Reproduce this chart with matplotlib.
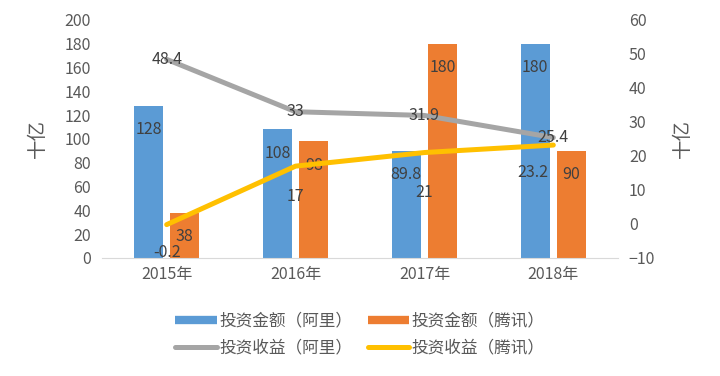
import matplotlib.pyplot as plt
from matplotlib.lines import Line2D
import numpy as np

plt.rcParams['font.family'] = ['Noto Sans CJK SC', 'DejaVu Sans']

years = ['2015年', '2016年', '2017年', '2018年']
invest_ali = [128, 108, 89.8, 180]
invest_tx = [38, 98, 180, 90]
gain_ali = [48.4, 33, 31.9, 25.4]
gain_tx = [-0.2, 17, 21, 23.2]

blue = '#5B9BD5'
orange = '#ED7D31'
grey = '#A5A5A5'
yellow = '#FFC000'
txt = '#404040'
tick_c = '#595959'

fig = plt.figure(figsize=(7.2, 3.76), dpi=100)
ax = fig.add_axes([0.142, 0.314, 0.716, 0.633])
ax2 = ax.twinx()

x = np.arange(len(years))
w = 0.224
off = 0.141
ax.bar(x - off, invest_ali, w, color=blue, zorder=2)
ax.bar(x + off, invest_tx, w, color=orange, zorder=2)

for xi, v in zip(x - off, invest_ali):
    ax.annotate(f'{v:g}', (xi, v), xytext=(0, -11), textcoords='offset points',
                ha='center', va='top', fontsize=11.5, color=txt)
for xi, v in zip(x + off, invest_tx):
    ax.annotate(f'{v:g}', (xi, v), xytext=(0, -11), textcoords='offset points',
                ha='center', va='top', fontsize=11.5, color=txt)

ax2.plot(x, gain_ali, color=grey, lw=3.6, solid_capstyle='round', zorder=3)
ax2.plot(x, gain_tx, color=yellow, lw=3.6, solid_capstyle='round', zorder=3)

for xi, v in zip(x, gain_ali):
    ax2.annotate(f'{v:g}', (xi, v), ha='center', va='center', fontsize=11.5, color=txt, zorder=4)
# yellow labels sit below the line; nudged like the source
tx_dx = [0, 0, 0, -15]
tx_dy = [-20, -22, -29, -20]
for xi, v, dx, dy in zip(x, gain_tx, tx_dx, tx_dy):
    ax2.annotate(f'{v:g}', (xi, v), xytext=(dx, dy), textcoords='offset points',
                 ha='center', va='center', fontsize=11.5, color=txt, zorder=4)

ax.set_xlim(-0.5, 3.5)
ax.set_ylim(0, 200)
ax.set_yticks(np.arange(0, 201, 20))
ax2.set_ylim(-10, 60)
ax2.set_yticks(np.arange(-10, 61, 10))
ax.set_xticks(x)
ax.set_xticklabels(years)

for a in (ax, ax2):
    for s in ('top', 'left', 'right', 'bottom'):
        a.spines[s].set_visible(False)
    a.tick_params(length=0, labelsize=11.5, colors=tick_c, pad=8)
ax.spines['bottom'].set_visible(True)
ax.spines['bottom'].set_color('#D9D9D9')
ax.tick_params(axis='x', pad=6)

ax.set_ylabel('十亿', fontsize=14, color=tick_c, rotation=90, labelpad=12)
ax2.set_ylabel('十亿', fontsize=14, color=tick_c, rotation=90, labelpad=12)

handles = [
    Line2D([], [], color=blue, lw=6, solid_capstyle='butt'),
    Line2D([], [], color=grey, lw=3.6, solid_capstyle='round'),
    Line2D([], [], color=orange, lw=6, solid_capstyle='butt'),
    Line2D([], [], color=yellow, lw=3.6, solid_capstyle='round'),
]
labels = ['投资金额（阿里）', '投资收益（阿里）', '投资金额（腾讯）', '投资收益（腾讯）']
fig.legend(handles, labels, ncol=2, loc='center', bbox_to_anchor=(0.5, 0.11),
           frameon=False, fontsize=12, handlelength=2.5, handletextpad=0.15,
           columnspacing=0.9, labelspacing=0.6, labelcolor=tick_c)

fig.savefig('out.png', dpi=100, facecolor='white')
